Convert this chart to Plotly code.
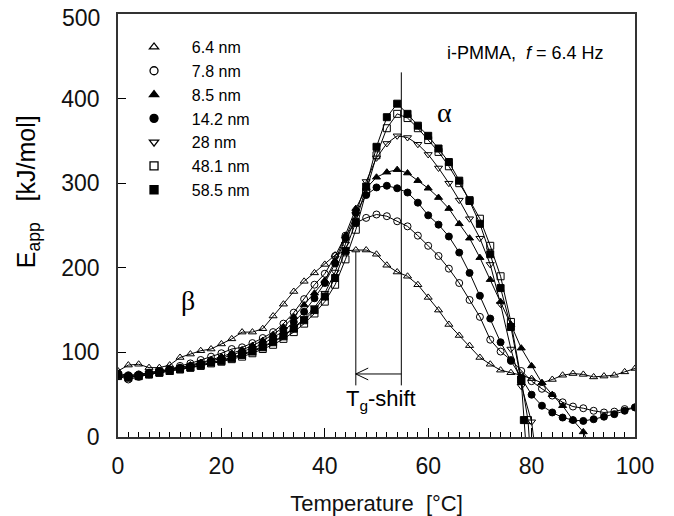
import plotly.graph_objects as go

# ---------------- data ----------------
T_6_4 = [0, 2, 4, 6, 8, 10, 12, 14, 16, 18, 20, 22, 24, 26, 28, 30, 32, 34, 36, 38, 40,
         42, 44, 46, 48, 50, 52, 54, 56, 58, 60, 62, 64, 66, 68, 70, 72, 74, 76, 78, 80,
         82, 84, 86, 88, 90, 92, 94, 96, 98, 100]
E_6_4 = [78, 85, 86, 82, 82, 85, 94, 98, 102, 104, 110, 116, 124, 124, 128, 143, 157, 172, 184, 194, 204,
         215, 220, 221, 221, 216, 203, 195, 190, 180, 165, 150, 133, 120, 108, 94, 86, 79, 76, 73, 69,
         64, 68, 73, 75, 74, 71, 72, 73, 77, 81]

T_7_8 = [0, 2, 4, 6, 8, 10, 12, 14, 16, 18, 20, 22, 24, 26, 28, 30, 32, 34, 36, 38, 40,
         42, 44, 46, 48, 50, 52, 54, 56, 58, 60, 62, 64, 66, 68, 70, 72, 74, 76, 78, 80,
         82, 84, 86, 88, 90, 92, 94, 96, 98, 100]
E_7_8 = [72, 68, 71, 74, 77, 80, 84, 87, 91, 95, 99, 104, 106, 111, 117, 124, 134, 147, 163, 180, 193,
         214, 238, 253, 259, 263, 261, 255, 249, 238, 226, 214, 199, 182, 162, 142, 115, 101, 91, 78, 66,
         57, 49, 41, 36, 34, 31, 29, 30, 33, 35]

T_8_5 = [0, 2, 4, 6, 8, 10, 12, 14, 16, 18, 20, 22, 24, 26, 28, 30, 32, 34, 36, 38, 40,
         42, 44, 46, 48, 50, 52, 54, 56, 58, 60, 62, 64, 66, 68, 70, 72, 74, 76, 78, 80,
         82, 84, 86, 88, 90, 91.5]
E_8_5 = [74, 72, 74, 76, 78, 80, 82, 85, 88, 91, 95, 99, 103, 108, 114, 121, 130, 142, 156, 170, 185,
         208, 238, 270, 294, 307, 313, 316, 312, 303, 294, 283, 270, 252, 235, 212, 186, 160, 133, 105, 84,
         64, 50, 37, 20, 6, -15]

T_14_2 = [0, 2, 4, 6, 8, 10, 12, 14, 16, 18, 20, 22, 24, 26, 28, 30, 32, 34, 36, 38, 40,
          42, 44, 46, 48, 50, 52, 54, 56, 58, 60, 62, 64, 66, 68, 70, 72, 74, 76, 78, 80,
          82, 84, 86, 88, 90, 92, 94, 96, 98, 100]
E_14_2 = [75, 73, 74, 76, 78, 80, 82, 84, 87, 90, 93, 97, 101, 105, 110, 117, 125, 136, 148, 164, 182,
          205, 235, 265, 286, 295, 297, 294, 289, 277, 262, 251, 237, 218, 194, 167, 140, 112, 90, 70, 50,
          37, 29, 23, 20, 19, 21, 24, 27, 31, 35]

T_28 = [0, 2, 4, 6, 8, 10, 12, 14, 16, 18, 20, 22, 24, 26, 28, 30, 32, 34, 36, 38, 40,
        42, 44, 46, 48, 50, 52, 54, 56, 58, 60, 62, 64, 66, 68, 70, 72, 74, 76, 78, 80, 81.2]
E_28 = [73, 71, 73, 75, 77, 79, 81, 83, 85, 88, 91, 94, 98, 102, 107, 113, 120, 129, 140, 153, 170,
        195, 228, 263, 302, 330, 347, 356, 354, 346, 334, 318, 300, 280, 258, 235, 204, 157, 104, 60, 18, -40]

T_48_1 = [0, 2, 4, 6, 8, 10, 12, 14, 16, 18, 20, 22, 24, 26, 28, 30, 32, 34, 36, 38, 40,
          42, 44, 46, 48, 50, 52, 54, 56, 58, 60, 62, 64, 66, 68, 70, 72, 74, 76, 78, 79.3, 80.2]
E_48_1 = [72, 70, 72, 74, 76, 78, 80, 82, 84, 87, 89, 92, 95, 99, 104, 109, 116, 124, 134, 146, 160,
          180, 210, 245, 290, 333, 365, 382, 377, 365, 351, 337, 320, 300, 280, 258, 226, 190, 136, 68, 20, -60]

T_58_5 = [0, 2, 4, 6, 8, 10, 12, 14, 16, 18, 20, 22, 24, 26, 28, 30, 32, 34, 36, 38, 40,
          42, 44, 46, 48, 50, 52, 54, 56, 58, 60, 62, 64, 66, 68, 70, 72, 74, 76, 78, 78.5, 79.5]
E_58_5 = [73, 71, 72, 74, 76, 78, 80, 82, 85, 88, 90, 93, 97, 101, 106, 112, 119, 128, 138, 150, 166,
          188, 220, 254, 296, 343, 378, 394, 382, 368, 356, 341, 325, 303, 279, 252, 216, 176, 130, 66, 20, -60]

names = ["6.4 nm", "7.8 nm", "8.5 nm", "14.2 nm", "28 nm", "48.1 nm", "58.5 nm"]
symbols = ["triangle-up-open", "circle-open", "triangle-up", "circle",
           "triangle-down-open", "square-open", "square"]
temps = [T_6_4, T_7_8, T_8_5, T_14_2, T_28, T_48_1, T_58_5]
energies = [E_6_4, E_7_8, E_8_5, E_14_2, E_28, E_48_1, E_58_5]

x_ticks = [0, 20, 40, 60, 80, 100]
y_ticks = [0, 100, 200, 300, 400, 500]
y_tick_text = ["0", "100", "200", "300", "400", ""]   # "500" drawn below as an annotation
y_top_label = "500"

FONT = "Liberation Sans, Arial, sans-serif"
SERIF = "Liberation Serif, Times New Roman, serif"
NB = "\u00a0"

fig = go.Figure()

for name, t, e, sym in zip(names, temps, energies, symbols):
    fig.add_trace(go.Scatter(
        x=t, y=e, mode="lines+markers", showlegend=False,
        line=dict(color="black", width=1),
        marker=dict(symbol=sym, size=7, color="black",
                    line=dict(color="black", width=1)),
        cliponaxis=True,
    ))

# legend entries (markers only)
for name, sym in zip(names, symbols):
    fig.add_trace(go.Scatter(
        x=[None], y=[None], mode="markers", name=NB * 4 + name,
        marker=dict(symbol=sym, size=8, color="black",
                    line=dict(color="black", width=1.3)),
    ))

# Tg-shift markers
fig.add_shape(type="line", x0=54.8, x1=54.8, y0=61, y1=431,
              line=dict(color="black", width=1))
fig.add_shape(type="line", x0=46.0, x1=46.0, y0=61, y1=219,
              line=dict(color="black", width=1))
fig.add_shape(type="line", x0=46.0, x1=54.8, y0=74.5, y1=74.5,
              line=dict(color="black", width=1))
fig.add_shape(type="path", path="M 48.4,81.5 L 46.0,74.5 L 48.4,67.5",
              line=dict(color="black", width=1))

annotations = [
    dict(x=50.8, y=44, text="T<sub>g</sub>-shift", showarrow=False,
         font=dict(family=FONT, size=22, color="black")),
    dict(x=78.9, y=454, text="i-PMMA,  <i>f</i> = 6.4 Hz", showarrow=False,
         font=dict(family=FONT, size=18, color="black")),
    dict(x=63.2, y=383, text="α", showarrow=False,
         font=dict(family=SERIF, size=28, color="black")),
    dict(x=13.6, y=161, text="β", showarrow=False,
         font=dict(family=SERIF, size=28, color="black")),
    dict(x=-0.174, y=0.579, xref="paper", yref="paper", textangle=-90,
         xanchor="center", yanchor="middle",
         text="E<sub>app</sub>" + NB * 2 + " [kJ/mol]", showarrow=False,
         font=dict(family=FONT, size=25, color="black")),
    dict(x=-0.031, y=y_ticks[-1], xref="paper", yref="y", xanchor="right", yanchor="middle",
         yshift=-4, text=y_top_label, showarrow=False,
         font=dict(family=FONT, size=23, color="#111")),
]
for a in annotations:
    fig.add_annotation(**a)

# the page body adds an 8px offset; the figure is sized so the plot lands where the reference has it
fig.update_layout(
    width=666, height=508,
    margin=dict(l=110, r=39, t=6, b=79, autoexpand=False),
    paper_bgcolor="white", plot_bgcolor="white",
    font=dict(family=FONT, color="black"),
    showlegend=True,
    legend=dict(x=0.031, y=0.962, xanchor="left", yanchor="top",
                bgcolor="rgba(0,0,0,0)", font=dict(family=FONT, size=16, color="black"),
                itemwidth=30),
)

fig.update_xaxes(
    range=[0, 100], tickvals=x_ticks, ticks="inside", ticklen=9, tickwidth=1,
    tickcolor="black", showgrid=False, zeroline=False, automargin=False,
    showline=True, linecolor="#333", linewidth=1.5, mirror=True,
    tickfont=dict(family=FONT, size=23, color="#111"),
    ticklabelstandoff=8, ticklabeloverflow="allow",
    minor=dict(dtick=2, ticks="inside", ticklen=5, tickcolor="black", tickwidth=1),
    title=dict(text="Temperature  [°C]", font=dict(family=FONT, size=22, color="#111"),
               standoff=18),
)
fig.update_yaxes(
    range=[0, 500], tickvals=y_ticks, ticktext=y_tick_text, ticks="inside", ticklen=8, tickwidth=1,
    tickcolor="black", showgrid=False, zeroline=False, automargin=False,
    showline=True, linecolor="#333", linewidth=1.5, mirror=True,
    tickfont=dict(family=FONT, size=23, color="#111"),
    ticklabelstandoff=12, ticklabeloverflow="allow",
)

fig.write_html("out.html")
